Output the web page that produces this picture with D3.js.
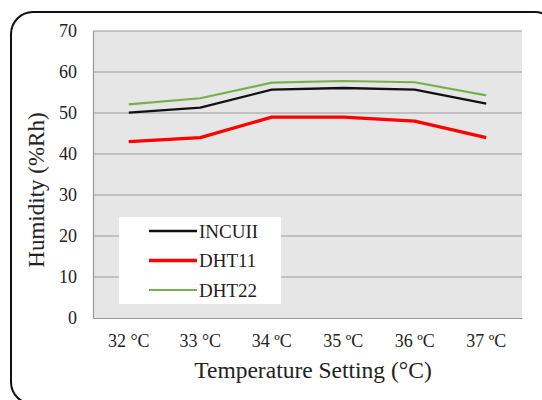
<!DOCTYPE html>
<html>
<head>
<meta charset="utf-8">
<script src="https://cdn.jsdelivr.net/npm/d3@7"></script>
<style>
  body { margin: 0; background: #fff; }
  text { font-family: "Liberation Serif", "Times New Roman", serif; fill: #222; }
</style>
</head>
<body>
<svg id="chart"></svg>
<script>
// data
var temps = ["32 \u00b0C", "33 \u00b0C", "34 \u00baC", "35 \u00baC", "36 \u00baC", "37 \u00baC"];
var incuii = [50.1, 51.3, 55.7, 56.1, 55.7, 52.3];
var dht11 = [43, 44, 49, 49, 48, 44];
var dht22 = [52.1, 53.6, 57.4, 57.8, 57.5, 54.3];
var yTicks = [0, 10, 20, 30, 40, 50, 60, 70];

var series = [
  { name: "INCUII", values: incuii, color: "#111", width: 2.3 },
  { name: "DHT11", values: dht11, color: "#ff0000", width: 3.3 },
  { name: "DHT22", values: dht22, color: "#76b04b", width: 2.2 }
];

var width = 542, height = 400;
// plot box (window.top is reserved, so use own names)
var pLeft = 93, pRight = 522, pTop = 31, pBottom = 318;
var serif = "'Liberation Serif', 'Times New Roman', serif";

const svg = d3.select("#chart").attr("width", width).attr("height", height);

// rounded frame around the whole chart
svg.append("rect")
  .attr("x", 11).attr("y", 12)
  .attr("width", 546).attr("height", 392)
  .attr("rx", 22)
  .attr("fill", "none")
  .attr("stroke", "#111")
  .attr("stroke-width", 2);

var x = d3.scaleBand().domain(temps).range([pLeft, pRight]);
var y = d3.scaleLinear().domain([0, 70]).range([pBottom, pTop]);

svg.append("rect")
  .attr("x", pLeft).attr("y", pTop)
  .attr("width", pRight - pLeft).attr("height", pBottom - pTop)
  .attr("fill", "#e6e6e6");

// gridlines
svg.append("g")
  .selectAll("line")
  .data(yTicks.filter(d => d > 0))
  .enter()
  .append("line")
  .attr("x1", pLeft).attr("x2", pRight)
  .attr("y1", d => y(d)).attr("y2", d => y(d))
  .attr("stroke", "#9a9a9a")
  .attr("stroke-width", 1.2);

// axes
const yAxis = svg.append("g")
  .attr("transform", "translate(" + pLeft + ",0)")
  .call(d3.axisLeft(y).tickValues(yTicks).tickSize(0).tickPadding(16));
yAxis.select(".domain").attr("stroke", "#9a9a9a").attr("stroke-width", 1.2);
yAxis.attr("font-family", null);
yAxis.selectAll("text")
  .style("font-family", serif)
  .style("font-size", "18px")
  .attr("fill", "#222");

const xAxis = svg.append("g")
  .attr("transform", "translate(0," + pBottom + ")")
  .call(d3.axisBottom(x).tickSize(0).tickPadding(16));
xAxis.select(".domain").attr("stroke", "#9a9a9a").attr("stroke-width", 1.2);
xAxis.attr("font-family", null);
xAxis.selectAll("text")
  .style("font-family", serif)
  .style("font-size", "18px")
  .attr("fill", "#222");

// lines
var line = d3.line()
  .x((d, i) => x(temps[i]) + x.bandwidth() / 2)
  .y(d => y(d));

svg.append("g")
  .selectAll("path")
  .data(series)
  .enter()
  .append("path")
  .attr("d", d => line(d.values))
  .attr("fill", "none")
  .attr("stroke", d => d.color)
  .attr("stroke-width", d => d.width)
  .attr("stroke-linejoin", "round");

// legend
var lg = svg.append("g");
lg.append("rect")
  .attr("x", 119).attr("y", 217)
  .attr("width", 162).attr("height", 87)
  .attr("fill", "#fff");
var rows = lg.selectAll("g.row")
  .data(series)
  .enter()
  .append("g")
  .attr("transform", (d, i) => "translate(0," + (231 + i * 29.5) + ")");
rows.append("line")
  .attr("x1", 149).attr("x2", 197)
  .attr("stroke", d => d.color)
  .attr("stroke-width", d => d.width);
rows.append("text")
  .attr("x", 199).attr("y", 6.5)
  .style("font-size", "19px")
  .text(d => d.name);

// axis titles
svg.append("text")
  .attr("transform", "translate(44,190) rotate(-90)")
  .attr("text-anchor", "middle")
  .style("font-size", "23px")
  .text("Humidity (%Rh)");

svg.append("text")
  .attr("x", 313).attr("y", 378)
  .attr("text-anchor", "middle")
  .style("font-size", "23.5px")
  .text("Temperature Setting (\u00b0C)");
</script>
</body>
</html>
